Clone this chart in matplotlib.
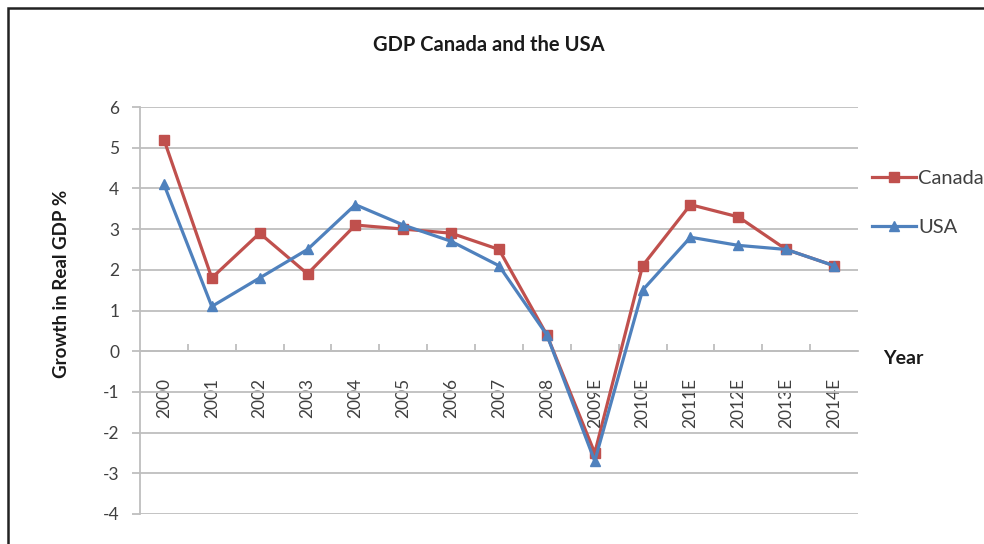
import numpy as np
import matplotlib.pyplot as plt
from matplotlib.patches import Rectangle

# Real GDP growth (%), actual to 2008 and estimates afterwards
years = ["2000", "2001", "2002", "2003", "2004", "2005", "2006", "2007",
         "2008", "2009E", "2010E", "2011E", "2012E", "2013E", "2014E"]
canada = [5.2, 1.8, 2.9, 1.9, 3.1, 3.0, 2.9, 2.5, 0.4, -2.5, 2.1, 3.6, 3.3, 2.5, 2.1]
usa = [4.1, 1.1, 1.8, 2.5, 3.6, 3.1, 2.7, 2.1, 0.4, -2.7, 1.5, 2.8, 2.6, 2.5, 2.1]
y_ticks = [-4, -3, -2, -1, 0, 1, 2, 3, 4, 5, 6]

red = "#C0504D"
blue = "#4F81BD"
grid_gray = "#BEBEBE"
text_gray = "#404040"

plt.rcParams['font.family'] = ['Lato', 'DejaVu Sans']

W, H = 984, 544
fig = plt.figure(figsize=(W / 100, H / 100), dpi=100)
fig.patch.set_facecolor("white")

# plot area in pixel terms
left, right, top, bottom = 140, 858, 107, 514
ax = fig.add_axes([left / W, 1 - bottom / H, (right - left) / W, (bottom - top) / H])

x = np.arange(len(years))
ax.plot(x, canada, color=red, lw=2.3, marker="s", ms=7, label="Canada", zorder=3)
ax.plot(x, usa, color=blue, lw=2.3, marker="^", ms=7, label="USA", zorder=4)

ax.set_xlim(-0.5, len(years) - 0.5)
ax.set_ylim(-4, 6)
ax.set_yticks(y_ticks)
ax.set_yticklabels([str(v) for v in y_ticks], color=text_gray, fontsize=12.5)
ax.yaxis.grid(True, color=grid_gray, lw=1.3)
ax.set_axisbelow(True)

# category axis sits on the zero line, tick marks between categories
for side in ("top", "right"):
    ax.spines[side].set_visible(False)
ax.spines["bottom"].set_position(("data", 0))
ax.spines["bottom"].set_color(grid_gray)
ax.spines["bottom"].set_linewidth(1.3)
ax.spines["left"].set_color(grid_gray)
ax.spines["left"].set_linewidth(1.3)
ax.set_xticks(x)
ax.set_xticklabels(years, rotation=90, color=text_gray, fontsize=12.5)
ax.tick_params(axis="x", length=0, pad=19)
ax.set_xticks(x[:-1] + 0.5, minor=True)
ax.tick_params(axis="x", which="minor", direction="in", length=5, color=grid_gray, width=1.3)
ax.tick_params(axis="y", length=6, color=grid_gray, width=1.3, pad=9)

leg = ax.legend(loc="upper left", bbox_to_anchor=(872 / W, 1 - 170 / H),
                bbox_transform=fig.transFigure, frameon=False, fontsize=14.5,
                handlelength=2.2, handletextpad=0.1, labelspacing=1.6,
                borderpad=0, borderaxespad=0)
for t in leg.get_texts():
    t.set_color(text_gray)

fig.text(489 / W, 1 - 45 / H, "GDP Canada and the USA", ha="center", va="center",
         fontsize=14.5, fontweight="bold", color="#1a1a1a")
fig.text(62 / W, 1 - 284 / H, "Growth in Real GDP %", ha="center", va="center",
         rotation=90, fontsize=13.5, fontweight="bold", color="#1a1a1a")
fig.text(883 / W, 1 - 358 / H, "Year", ha="left", va="center",
         fontsize=14, fontweight="bold", color="#1a1a1a")

# outer chart frame, running past the right and bottom edges
fig.patches.append(Rectangle((8 / W, -0.1), 1.2, 1 - 8 / H + 0.1,
                             transform=fig.transFigure, fill=False,
                             edgecolor="#222222", lw=1.8))

fig.savefig("out.png", dpi=100)
